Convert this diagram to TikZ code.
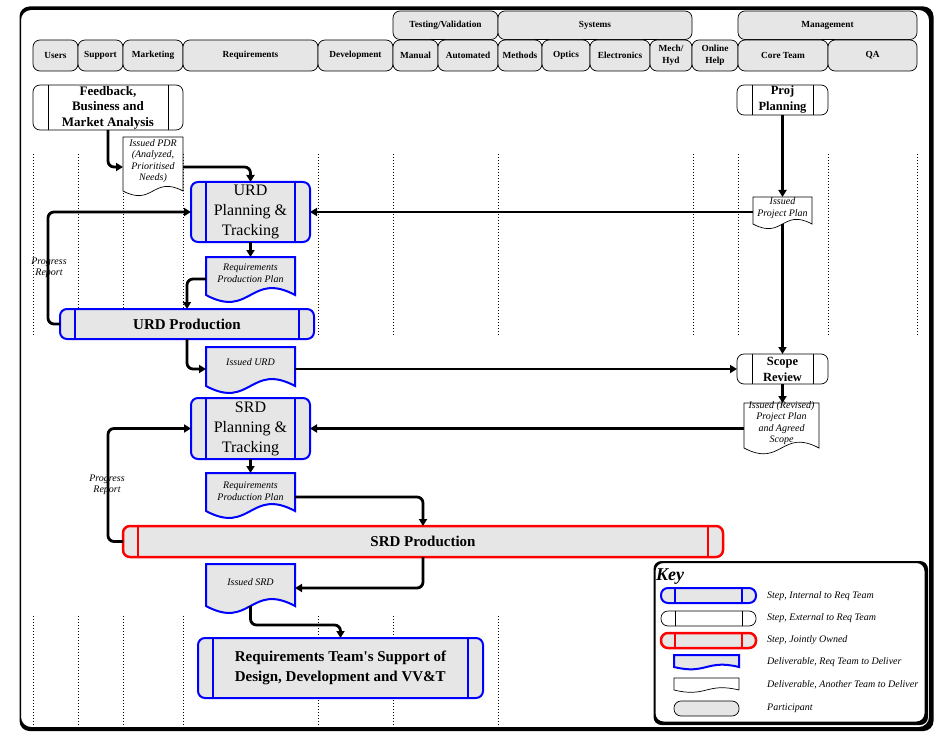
\documentclass[tikz,border=0pt]{standalone}
\usepackage{fontspec}
\setmainfont{Liberation Serif}
\usetikzlibrary{arrows.meta}
\definecolor{stepgray}{RGB}{230,230,230}
\definecolor{stepblue}{RGB}{0,0,255}
\definecolor{stepred}{RGB}{255,0,0}
\newcommand\fhead{\bfseries\fontsize{9.3}{12}\selectfont}
\newcommand\ftrack{\fontsize{16}{20}\selectfont}
\newcommand\fprod{\bfseries\fontsize{15}{20}\selectfont}
\newcommand\fext{\bfseries\fontsize{13}{15.5}\selectfont}
\newcommand\fsmallext{\bfseries\fontsize{12.5}{16}\selectfont}
\newcommand\fdoc{\itshape\fontsize{10}{11.5}\selectfont}
\newcommand\fkey{\bfseries\itshape\fontsize{18}{20}\selectfont}
% participant box: x0 x1 y0 y1 name text
\newcommand\partbox[6]{\node[part, minimum width={#2-#1}, minimum height={#4-#3}] (#5) at ({(#1+#2)/2},{(#3+#4)/2}) {#6};}
% step: style name x0 x1 y0 y1 inner-offset text
\newcommand\stepbox[8]{%
  \node[#1, minimum width={#4-#3}, minimum height={#6-#5}] (#2) at ({(#3+#4)/2},{(#5+#6)/2}) {#8};
  \draw[#1, fill=none, sharp corners] ([xshift=#7]#2.north west) -- ([xshift=#7]#2.south west)
       ([xshift=-#7]#2.north east) -- ([xshift=-#7]#2.south east);}
% document: style name x0 x1 y0 ybase k texty text
\newcommand\docbox[9]{%
  \draw[#1] (#3,#5) -- (#4,#5) -- (#4,#6) .. controls ({(#3+#4)/2},{#6-#7}) and ({(#3+#4)/2},{#6+#7}) .. (#3,#6) -- cycle;
  \node[docarea, minimum width={#4-#3}, minimum height={#6-#5}] (#2) at ({(#3+#4)/2},{(#5+#6)/2}) {};
  \node[doctext] (#2t) at ({(#3+#4)/2},#8) {#9};}
\begin{document}
\begin{tikzpicture}[x=1pt,y=-1pt,
  part/.style={draw=black, line width=0.7pt, fill=stepgray, rounded corners=7pt, inner sep=0pt, outer sep=0pt, align=center, font=\fhead},
  stepbase/.style={rounded corners=7pt, inner sep=0pt, outer sep=0pt, align=center, fill=stepgray},
  bluestep/.style={stepbase, draw=stepblue, line width=2pt},
  extstep/.style={stepbase, fill=white, draw=black, line width=0.7pt},
  redstep/.style={stepbase, draw=stepred, line width=2.5pt},
  docblue/.style={draw=stepblue, line width=2pt, fill=stepgray},
  docwhite/.style={draw=black, line width=0.7pt, fill=white},
  docarea/.style={inner sep=0pt, outer sep=0pt, shape=rectangle},
  doctext/.style={inner sep=0pt, align=center, font=\fdoc},
  lane/.style={line width=0.8pt, dash pattern=on 1pt off 2pt},
  arr/.style={line width=2.8pt, rounded corners=6pt, -{Triangle[length=7pt,width=8pt]}},
  lbl/.style={inner sep=0pt, anchor=west, font=\fdoc}]
\useasboundingbox (0,0) rectangle (950,738);
\fill[white] (0,0) rectangle (950,738);
% outer frame
\fill[black, even odd rule, rounded corners=10pt] (19.5,6.5) rectangle (933.5,731) (21,10) rectangle (929,727);
% header
\partbox{393}{498}{11}{39.5}{ttv}{Testing/Validation}
\partbox{498}{692}{11}{39.5}{sys}{Systems}
\partbox{738}{917}{11}{39.5}{mgmt}{Management}
\partbox{33}{78}{40}{71}{users}{Users}
\partbox{78}{123}{40}{71}{support}{Support}
\partbox{123}{183}{40}{71}{mkt}{Marketing}
\partbox{183}{318}{40}{71}{req}{Requirements}
\partbox{318}{393}{40}{71}{dev}{Development}
\partbox{393}{438}{40}{71}{manual}{Manual}
\partbox{438}{498}{40}{71}{auto}{Automated}
\partbox{498}{542}{40}{71}{methods}{Methods}
\partbox{542}{590}{40}{71}{optics}{Optics}
\partbox{590}{650}{40}{71}{elec}{Electronics}
\partbox{650}{692}{40}{71}{mech}{Mech/\\Hyd}
\partbox{692}{738}{40}{71}{ohelp}{Online\\Help}
\partbox{738}{828}{40}{71}{core}{Core Team}
\partbox{828}{917}{40}{71}{qa}{QA}
% lanes
\foreach \lx in {33,78,123,183,318,393,498,693,738,828,917}
  \draw[lane] (\lx,154) -- (\lx,336);
\foreach \lx in {33,78,123,183,318,393,498}
  \draw[lane] (\lx,616) -- (\lx,725);
% steps and deliverables
\stepbox{extstep, font=\fext}{feedback}{33}{183}{85}{130}{15}{Feedback,\\Business and\\Market Analysis}
\docbox{docwhite}{pdr}{123}{183}{137}{191}{16}{161}{Issued PDR\\(Analyzed,\\Prioritised\\Needs)}
\stepbox{bluestep, font=\ftrack}{urdpt}{191}{310}{182}{242}{15}{URD\\Planning \&\\Tracking}
\docbox{docblue}{rppa}{206}{295}{257}{295}{24}{273}{Requirements\\Production Plan}
\stepbox{bluestep, font=\fprod}{urdprod}{60}{314}{309}{339}{15}{URD Production}
\docbox{docblue}{iurd}{206}{295}{347}{386}{24}{362}{Issued URD}
\stepbox{extstep, font=\fsmallext}{projplan}{737}{828}{85}{115}{15}{Proj\\Planning}
\docbox{docwhite}{ipp}{753}{812}{197}{224}{16}{208}{Issued\\Project Plan}
\stepbox{extstep, font=\fsmallext}{scope}{737}{828}{354}{384}{15}{Scope\\Review}
\docbox{docwhite}{irpp}{744}{819}{403}{448}{20}{423}{Issued (Revised)\\Project Plan\\and Agreed\\Scope}
\stepbox{bluestep, font=\ftrack}{srdpt}{191}{310}{398}{459}{15}{SRD\\Planning \&\\Tracking}
\docbox{docblue}{rppb}{206}{295}{473}{511}{24}{491}{Requirements\\Production Plan}
\stepbox{redstep, font=\fprod}{srdprod}{123}{723}{526}{557}{15}{SRD Production}
\docbox{docblue}{isrd}{206}{295}{564}{606}{24}{582}{Issued SRD}
\stepbox{bluestep, font=\fprod, align=left}{supp}{198}{483}{638}{698}{15}{Requirements Team\textquotesingle s Support of\\Design, Development and VV\&T}
% progress labels
\node[doctext] (prA) at (49,268) {Progress\\Report};
\node[doctext] (prB) at (107,485) {Progress\\Report};
% connectors
\draw[arr] (feedback.south) |- ([yshift=-3pt]pdr.west);
\draw[arr] ([yshift=-3pt]pdr.east) -| (urdpt.north);
\draw[arr] (urdpt.south) -- (rppa.north);
\draw[arr] ([yshift=-3pt]rppa.west) -| (urdprod.north);
\draw[arr] (urdprod.west) -- ++(-12,0) |- (urdpt.west);
\draw[arr] (urdprod.south) |- ([yshift=-2.5pt]iurd.west);
\draw[arr] ([yshift=-2.5pt]iurd.east) -- (scope.west);
\draw[arr] (projplan.south) -- (ipp.north);
\draw[arr] (ipp.west |- urdpt.east) -- (urdpt.east);
\draw[arr] (ipp.south) -- (scope.north);
\draw[arr] (scope.south) -- (scope.south |- irpp.north);
\draw[arr] (irpp.west |- srdpt.east) -- (srdpt.east);
\draw[arr] (srdprod.west) -- ++(-15,0) |- (srdpt.west);
\draw[arr] (srdpt.south) -- (rppb.north);
\draw[arr] ([yshift=-5pt]rppb.east) -| (srdprod.north);
\draw[arr] (srdprod.south) |- ([yshift=-3pt]isrd.east);
\draw[arr] (isrd.south) -- ++(0,19) -| (supp.north);
% key
\fill[white, rounded corners=8pt] (654,562) rectangle (926,722);
\fill[black, even odd rule, rounded corners=8pt] (653.5,561) rectangle (928,725) (655.5,563) rectangle (924.5,721.5);
\node[inner sep=0pt, anchor=west, font=\fkey] (keyt) at (656,577) {Key};
\stepbox{bluestep}{ka}{661}{756}{588}{603}{14}{}
\stepbox{extstep}{kb}{661}{756}{611}{626}{14}{}
\stepbox{redstep}{kc}{661}{756}{633}{648}{14}{}
\docbox{docblue}{kd}{674}{739}{655}{667}{8}{661}{}
\docbox{docwhite}{ke}{674}{739}{678}{690}{8}{684}{}
\partbox{674}{739}{701}{716}{kf}{}
\node[lbl] (la) at (767,596) {Step, Internal to Req Team};
\node[lbl] (lb) at (767,618) {Step, External to Req Team};
\node[lbl] (lc) at (767,640) {Step, Jointly Owned};
\node[lbl] (ld) at (767,662) {Deliverable, Req Team to Deliver};
\node[lbl] (le) at (767,685) {Deliverable, Another Team to Deliver};
\node[lbl] (lf) at (767,708) {Participant};
\end{tikzpicture}
\end{document}
